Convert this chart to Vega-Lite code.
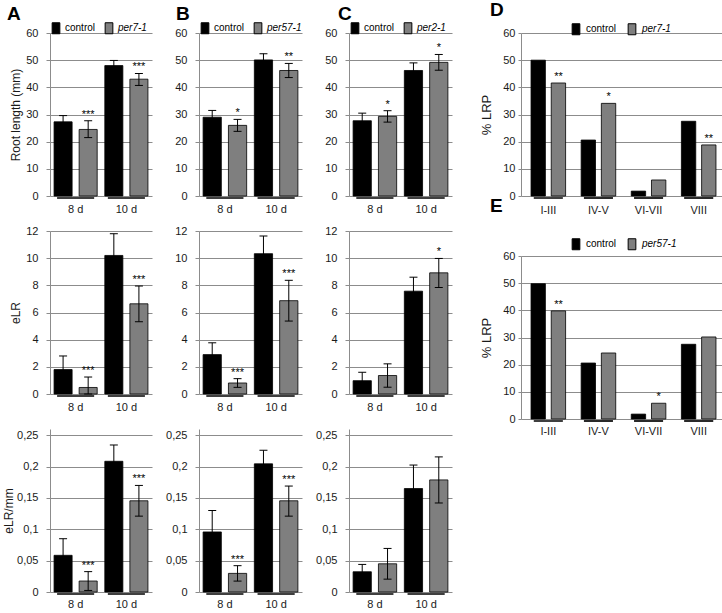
{
"$schema":"https://vega.github.io/schema/vega-lite/v6.json",
"padding":{"left":2,"top":1,"right":0,"bottom":0},
"background":"white",
"config":{"view":{"stroke":null},"font":"Liberation Sans",
 "axisY":{"grid":true,"gridColor":"#8c8c8c","domainColor":"#8c8c8c","tickColor":"#8c8c8c","tickSize":4,"labelPadding":8,"labelFontSize":11,"labelColor":"#1a1a1a","labelFont":"Liberation Sans","titleFont":"Liberation Sans","titleFontSize":12,"titleFontWeight":"normal","titleColor":"#1a1a1a","titlePadding":3},
 "axisX":{"domain":false,"ticks":false,"labelAngle":0,"labelFontSize":11,"labelColor":"#1a1a1a","labelFont":"Liberation Sans"},
 "title":{"anchor":"start","frame":"group","fontSize":19,"font":"Liberation Sans","fontWeight":"bold","color":"black","offset":0,"baseline":"alphabetic"},
 "legend":{"direction":"horizontal","padding":0,"symbolType":"M-0.7,-1H0.7V1H-0.7Z","symbolSize":121,"symbolStrokeColor":"black","symbolStrokeWidth":1,"symbolOpacity":1,"labelFontSize":10,"labelFont":"Liberation Sans","labelColor":"black","labelOffset":3}
},
"datasets":{
"a1":[{"day":"8 d","genotype":"control","value":27.3,"lo":24.9,"hi":29.6,"sig":""},{"day":"8 d","genotype":"per7-1","value":24.5,"lo":21.5,"hi":27.7,"sig":"***"},{"day":"10 d","genotype":"control","value":48.0,"lo":46.1,"hi":49.9,"sig":""},{"day":"10 d","genotype":"per7-1","value":43.0,"lo":40.7,"hi":45.1,"sig":"***"}],
"b1":[{"day":"8 d","genotype":"control","value":29.0,"lo":26.5,"hi":31.5,"sig":""},{"day":"8 d","genotype":"per57-1","value":26.0,"lo":23.8,"hi":28.2,"sig":"*"},{"day":"10 d","genotype":"control","value":50.1,"lo":47.8,"hi":52.4,"sig":""},{"day":"10 d","genotype":"per57-1","value":46.2,"lo":43.6,"hi":48.8,"sig":"**"}],
"c1":[{"day":"8 d","genotype":"control","value":27.7,"lo":24.9,"hi":30.5,"sig":""},{"day":"8 d","genotype":"per2-1","value":29.3,"lo":27.2,"hi":31.4,"sig":"*"},{"day":"10 d","genotype":"control","value":46.2,"lo":43.4,"hi":49.0,"sig":""},{"day":"10 d","genotype":"per2-1","value":49.2,"lo":46.3,"hi":52.1,"sig":"*"}],
"a2":[{"day":"8 d","genotype":"control","value":1.8,"lo":0.8,"hi":2.8,"sig":""},{"day":"8 d","genotype":"per7-1","value":0.48,"lo":0,"hi":1.25,"sig":"***"},{"day":"10 d","genotype":"control","value":10.2,"lo":8.6,"hi":11.8,"sig":""},{"day":"10 d","genotype":"per7-1","value":6.64,"lo":5.32,"hi":7.95,"sig":"***"}],
"b2":[{"day":"8 d","genotype":"control","value":2.9,"lo":2.03,"hi":3.77,"sig":""},{"day":"8 d","genotype":"per57-1","value":0.81,"lo":0.49,"hi":1.13,"sig":"***"},{"day":"10 d","genotype":"control","value":10.33,"lo":9.03,"hi":11.63,"sig":""},{"day":"10 d","genotype":"per57-1","value":6.87,"lo":5.37,"hi":8.37,"sig":"***"}],
"c2":[{"day":"8 d","genotype":"control","value":0.98,"lo":0.36,"hi":1.6,"sig":""},{"day":"8 d","genotype":"per2-1","value":1.36,"lo":0.5,"hi":2.22,"sig":""},{"day":"10 d","genotype":"control","value":7.57,"lo":6.54,"hi":8.6,"sig":""},{"day":"10 d","genotype":"per2-1","value":8.92,"lo":7.84,"hi":9.98,"sig":"*"}],
"a3":[{"day":"8 d","genotype":"control","value":0.0585,"lo":0.032,"hi":0.085,"sig":""},{"day":"8 d","genotype":"per7-1","value":0.0175,"lo":0.0025,"hi":0.0325,"sig":"***"},{"day":"10 d","genotype":"control","value":0.2085,"lo":0.1825,"hi":0.2345,"sig":""},{"day":"10 d","genotype":"per7-1","value":0.1455,"lo":0.121,"hi":0.17,"sig":"***"}],
"b3":[{"day":"8 d","genotype":"control","value":0.0958,"lo":0.0616,"hi":0.13,"sig":""},{"day":"8 d","genotype":"per57-1","value":0.0297,"lo":0.0174,"hi":0.042,"sig":"***"},{"day":"10 d","genotype":"control","value":0.2044,"lo":0.183,"hi":0.226,"sig":""},{"day":"10 d","genotype":"per57-1","value":0.1455,"lo":0.121,"hi":0.169,"sig":"***"}],
"c3":[{"day":"8 d","genotype":"control","value":0.0323,"lo":0.0205,"hi":0.044,"sig":""},{"day":"8 d","genotype":"per2-1","value":0.045,"lo":0.0205,"hi":0.0695,"sig":""},{"day":"10 d","genotype":"control","value":0.165,"lo":0.128,"hi":0.2025,"sig":""},{"day":"10 d","genotype":"per2-1","value":0.1788,"lo":0.142,"hi":0.2155,"sig":""}],
"d":[{"stage":"I-III","genotype":"control","value":50.0,"sig":""},{"stage":"I-III","genotype":"per7-1","value":41.6,"sig":"**"},{"stage":"IV-V","genotype":"control","value":20.6,"sig":""},{"stage":"IV-V","genotype":"per7-1","value":34.1,"sig":"*"},{"stage":"VI-VII","genotype":"control","value":1.8,"sig":""},{"stage":"VI-VII","genotype":"per7-1","value":5.9,"sig":""},{"stage":"VIII","genotype":"control","value":27.5,"sig":""},{"stage":"VIII","genotype":"per7-1","value":18.8,"sig":"**"}],
"e":[{"stage":"I-III","genotype":"control","value":49.8,"sig":""},{"stage":"I-III","genotype":"per57-1","value":39.8,"sig":"**"},{"stage":"IV-V","genotype":"control","value":20.6,"sig":""},{"stage":"IV-V","genotype":"per57-1","value":24.3,"sig":""},{"stage":"VI-VII","genotype":"control","value":1.8,"sig":""},{"stage":"VI-VII","genotype":"per57-1","value":5.8,"sig":"*"},{"stage":"VIII","genotype":"control","value":27.5,"sig":""},{"stage":"VIII","genotype":"per57-1","value":30.2,"sig":""}]
},
"hconcat":[
{"concat":[
{"width":102,"height":163,"data":{"name":"a1"},
 "title":{"text":"A","dx":-43,"dy":6},
 "encoding":{"x":{"field":"day","type":"nominal","sort":["8 d","10 d"],"scale":{"paddingInner":0.15,"paddingOuter":0.08},"axis":{"title":null,"labelPadding":7}}},
 "layer":[
  {"mark":{"type":"bar","stroke":"black","strokeWidth":0.8},"encoding":{
   "xOffset":{"field":"genotype","type":"nominal","sort":["control","per7-1"],"scale":{"paddingInner":0.28,"paddingOuter":0}},
   "y":{"field":"value","type":"quantitative","scale":{"domain":[0,60]},"axis":{"title":"Root length (mm)","values":[0,10,20,30,40,50,60]}},
   "color":{"field":"genotype","type":"nominal","scale":{"domain":["control","per7-1"],"range":["black","#7f7f7f"]},"legend":{"orient":"none","legendX":0,"legendY":-11,"title":null,"columnPadding":7,"encode":{"labels":{"update":{"fontStyle":{"signal":"datum.value === 'control' ? 'normal' : 'italic'"}}}}}}}},
  {"mark":{"type":"rule","color":"black","strokeWidth":1},"encoding":{"xOffset":{"field":"genotype","type":"nominal","sort":["control","per7-1"],"scale":{"paddingInner":0.28,"paddingOuter":0}},"y":{"field":"lo","type":"quantitative","axis":{"title":"Root length (mm)","values":[0,10,20,30,40,50,60]}},"y2":{"field":"hi"}}},
  {"mark":{"type":"tick","color":"black","size":8,"thickness":1,"opacity":1},"encoding":{"xOffset":{"field":"genotype","type":"nominal","sort":["control","per7-1"],"scale":{"paddingInner":0.28,"paddingOuter":0}},"y":{"field":"hi","type":"quantitative","axis":{"title":"Root length (mm)","values":[0,10,20,30,40,50,60]}}}},
  {"mark":{"type":"tick","color":"black","size":8,"thickness":1,"opacity":1},"encoding":{"xOffset":{"field":"genotype","type":"nominal","sort":["control","per7-1"],"scale":{"paddingInner":0.28,"paddingOuter":0}},"y":{"field":"lo","type":"quantitative","axis":{"title":"Root length (mm)","values":[0,10,20,30,40,50,60]}}}},
  {"mark":{"type":"text","baseline":"bottom","dy":-1,"fontSize":11,"font":"Liberation Sans","color":"black"},"encoding":{"xOffset":{"field":"genotype","type":"nominal","sort":["control","per7-1"],"scale":{"paddingInner":0.28,"paddingOuter":0}},"y":{"field":"hi","type":"quantitative","axis":{"title":"Root length (mm)","values":[0,10,20,30,40,50,60]}},"text":{"field":"sig"}}},
  {"mark":{"type":"tick","color":"black","size":37,"thickness":1.2,"yOffset":2,"opacity":1},"encoding":{"y":{"datum":0,"type":"quantitative","axis":{"title":"Root length (mm)","values":[0,10,20,30,40,50,60]}}}}
 ]},
{"width":103,"height":163,"data":{"name":"b1"},
 "title":{"text":"B","dx":-23,"dy":6},
 "encoding":{"x":{"field":"day","type":"nominal","sort":["8 d","10 d"],"scale":{"paddingInner":0.15,"paddingOuter":0.08},"axis":{"title":null,"labelPadding":7}}},
 "layer":[
  {"mark":{"type":"bar","stroke":"black","strokeWidth":0.8},"encoding":{
   "xOffset":{"field":"genotype","type":"nominal","sort":["control","per57-1"],"scale":{"paddingInner":0.28,"paddingOuter":0}},
   "y":{"field":"value","type":"quantitative","scale":{"domain":[0,60]},"axis":{"title":null,"values":[0,10,20,30,40,50,60]}},
   "color":{"field":"genotype","type":"nominal","scale":{"domain":["control","per57-1"],"range":["black","#7f7f7f"]},"legend":{"orient":"none","legendX":0,"legendY":-11,"title":null,"columnPadding":7,"encode":{"labels":{"update":{"fontStyle":{"signal":"datum.value === 'control' ? 'normal' : 'italic'"}}}}}}}},
  {"mark":{"type":"rule","color":"black","strokeWidth":1},"encoding":{"xOffset":{"field":"genotype","type":"nominal","sort":["control","per57-1"],"scale":{"paddingInner":0.28,"paddingOuter":0}},"y":{"field":"lo","type":"quantitative","axis":{"title":null,"values":[0,10,20,30,40,50,60]}},"y2":{"field":"hi"}}},
  {"mark":{"type":"tick","color":"black","size":8,"thickness":1,"opacity":1},"encoding":{"xOffset":{"field":"genotype","type":"nominal","sort":["control","per57-1"],"scale":{"paddingInner":0.28,"paddingOuter":0}},"y":{"field":"hi","type":"quantitative","axis":{"title":null,"values":[0,10,20,30,40,50,60]}}}},
  {"mark":{"type":"tick","color":"black","size":8,"thickness":1,"opacity":1},"encoding":{"xOffset":{"field":"genotype","type":"nominal","sort":["control","per57-1"],"scale":{"paddingInner":0.28,"paddingOuter":0}},"y":{"field":"lo","type":"quantitative","axis":{"title":null,"values":[0,10,20,30,40,50,60]}}}},
  {"mark":{"type":"text","baseline":"bottom","dy":-1,"fontSize":11,"font":"Liberation Sans","color":"black"},"encoding":{"xOffset":{"field":"genotype","type":"nominal","sort":["control","per57-1"],"scale":{"paddingInner":0.28,"paddingOuter":0}},"y":{"field":"hi","type":"quantitative","axis":{"title":null,"values":[0,10,20,30,40,50,60]}},"text":{"field":"sig"}}},
  {"mark":{"type":"tick","color":"black","size":37,"thickness":1.2,"yOffset":2,"opacity":1},"encoding":{"y":{"datum":0,"type":"quantitative","axis":{"title":null,"values":[0,10,20,30,40,50,60]}}}}
 ]},
{"width":103,"height":163,"data":{"name":"c1"},
 "title":{"text":"C","dx":-11,"dy":6},
 "encoding":{"x":{"field":"day","type":"nominal","sort":["8 d","10 d"],"scale":{"paddingInner":0.15,"paddingOuter":0.08},"axis":{"title":null,"labelPadding":7}}},
 "layer":[
  {"mark":{"type":"bar","stroke":"black","strokeWidth":0.8},"encoding":{
   "xOffset":{"field":"genotype","type":"nominal","sort":["control","per2-1"],"scale":{"paddingInner":0.28,"paddingOuter":0}},
   "y":{"field":"value","type":"quantitative","scale":{"domain":[0,60]},"axis":{"title":null,"values":[0,10,20,30,40,50,60]}},
   "color":{"field":"genotype","type":"nominal","scale":{"domain":["control","per2-1"],"range":["black","#7f7f7f"]},"legend":{"orient":"none","legendX":0,"legendY":-11,"title":null,"columnPadding":7,"encode":{"labels":{"update":{"fontStyle":{"signal":"datum.value === 'control' ? 'normal' : 'italic'"}}}}}}}},
  {"mark":{"type":"rule","color":"black","strokeWidth":1},"encoding":{"xOffset":{"field":"genotype","type":"nominal","sort":["control","per2-1"],"scale":{"paddingInner":0.28,"paddingOuter":0}},"y":{"field":"lo","type":"quantitative","axis":{"title":null,"values":[0,10,20,30,40,50,60]}},"y2":{"field":"hi"}}},
  {"mark":{"type":"tick","color":"black","size":8,"thickness":1,"opacity":1},"encoding":{"xOffset":{"field":"genotype","type":"nominal","sort":["control","per2-1"],"scale":{"paddingInner":0.28,"paddingOuter":0}},"y":{"field":"hi","type":"quantitative","axis":{"title":null,"values":[0,10,20,30,40,50,60]}}}},
  {"mark":{"type":"tick","color":"black","size":8,"thickness":1,"opacity":1},"encoding":{"xOffset":{"field":"genotype","type":"nominal","sort":["control","per2-1"],"scale":{"paddingInner":0.28,"paddingOuter":0}},"y":{"field":"lo","type":"quantitative","axis":{"title":null,"values":[0,10,20,30,40,50,60]}}}},
  {"mark":{"type":"text","baseline":"bottom","dy":-1,"fontSize":11,"font":"Liberation Sans","color":"black"},"encoding":{"xOffset":{"field":"genotype","type":"nominal","sort":["control","per2-1"],"scale":{"paddingInner":0.28,"paddingOuter":0}},"y":{"field":"hi","type":"quantitative","axis":{"title":null,"values":[0,10,20,30,40,50,60]}},"text":{"field":"sig"}}},
  {"mark":{"type":"tick","color":"black","size":37,"thickness":1.2,"yOffset":2,"opacity":1},"encoding":{"y":{"datum":0,"type":"quantitative","axis":{"title":null,"values":[0,10,20,30,40,50,60]}}}}
 ]},
{"width":102,"height":163,"data":{"name":"a2"},
 "encoding":{"x":{"field":"day","type":"nominal","sort":["8 d","10 d"],"scale":{"paddingInner":0.15,"paddingOuter":0.08},"axis":{"title":null,"labelPadding":7}}},
 "layer":[
  {"mark":{"type":"bar","stroke":"black","strokeWidth":0.8},"encoding":{
   "xOffset":{"field":"genotype","type":"nominal","sort":["control","per7-1"],"scale":{"paddingInner":0.28,"paddingOuter":0}},
   "y":{"field":"value","type":"quantitative","scale":{"domain":[0,12]},"axis":{"title":"eLR","values":[0,2,4,6,8,10,12]}},
   "color":{"field":"genotype","type":"nominal","scale":{"domain":["control","per7-1"],"range":["black","#7f7f7f"]},"legend":null}}},
  {"mark":{"type":"rule","color":"black","strokeWidth":1},"encoding":{"xOffset":{"field":"genotype","type":"nominal","sort":["control","per7-1"],"scale":{"paddingInner":0.28,"paddingOuter":0}},"y":{"field":"lo","type":"quantitative","axis":{"title":"eLR","values":[0,2,4,6,8,10,12]}},"y2":{"field":"hi"}}},
  {"mark":{"type":"tick","color":"black","size":8,"thickness":1,"opacity":1},"encoding":{"xOffset":{"field":"genotype","type":"nominal","sort":["control","per7-1"],"scale":{"paddingInner":0.28,"paddingOuter":0}},"y":{"field":"hi","type":"quantitative","axis":{"title":"eLR","values":[0,2,4,6,8,10,12]}}}},
  {"mark":{"type":"tick","color":"black","size":8,"thickness":1,"opacity":1},"encoding":{"xOffset":{"field":"genotype","type":"nominal","sort":["control","per7-1"],"scale":{"paddingInner":0.28,"paddingOuter":0}},"y":{"field":"lo","type":"quantitative","axis":{"title":"eLR","values":[0,2,4,6,8,10,12]}}}},
  {"mark":{"type":"text","baseline":"bottom","dy":-1,"fontSize":11,"font":"Liberation Sans","color":"black"},"encoding":{"xOffset":{"field":"genotype","type":"nominal","sort":["control","per7-1"],"scale":{"paddingInner":0.28,"paddingOuter":0}},"y":{"field":"hi","type":"quantitative","axis":{"title":"eLR","values":[0,2,4,6,8,10,12]}},"text":{"field":"sig"}}},
  {"mark":{"type":"tick","color":"black","size":37,"thickness":1.2,"yOffset":2,"opacity":1},"encoding":{"y":{"datum":0,"type":"quantitative","axis":{"title":"eLR","values":[0,2,4,6,8,10,12]}}}}
 ]},
{"width":103,"height":163,"data":{"name":"b2"},
 "encoding":{"x":{"field":"day","type":"nominal","sort":["8 d","10 d"],"scale":{"paddingInner":0.15,"paddingOuter":0.08},"axis":{"title":null,"labelPadding":7}}},
 "layer":[
  {"mark":{"type":"bar","stroke":"black","strokeWidth":0.8},"encoding":{
   "xOffset":{"field":"genotype","type":"nominal","sort":["control","per57-1"],"scale":{"paddingInner":0.28,"paddingOuter":0}},
   "y":{"field":"value","type":"quantitative","scale":{"domain":[0,12]},"axis":{"title":null,"values":[0,2,4,6,8,10,12]}},
   "color":{"field":"genotype","type":"nominal","scale":{"domain":["control","per57-1"],"range":["black","#7f7f7f"]},"legend":null}}},
  {"mark":{"type":"rule","color":"black","strokeWidth":1},"encoding":{"xOffset":{"field":"genotype","type":"nominal","sort":["control","per57-1"],"scale":{"paddingInner":0.28,"paddingOuter":0}},"y":{"field":"lo","type":"quantitative","axis":{"title":null,"values":[0,2,4,6,8,10,12]}},"y2":{"field":"hi"}}},
  {"mark":{"type":"tick","color":"black","size":8,"thickness":1,"opacity":1},"encoding":{"xOffset":{"field":"genotype","type":"nominal","sort":["control","per57-1"],"scale":{"paddingInner":0.28,"paddingOuter":0}},"y":{"field":"hi","type":"quantitative","axis":{"title":null,"values":[0,2,4,6,8,10,12]}}}},
  {"mark":{"type":"tick","color":"black","size":8,"thickness":1,"opacity":1},"encoding":{"xOffset":{"field":"genotype","type":"nominal","sort":["control","per57-1"],"scale":{"paddingInner":0.28,"paddingOuter":0}},"y":{"field":"lo","type":"quantitative","axis":{"title":null,"values":[0,2,4,6,8,10,12]}}}},
  {"mark":{"type":"text","baseline":"bottom","dy":-1,"fontSize":11,"font":"Liberation Sans","color":"black"},"encoding":{"xOffset":{"field":"genotype","type":"nominal","sort":["control","per57-1"],"scale":{"paddingInner":0.28,"paddingOuter":0}},"y":{"field":"hi","type":"quantitative","axis":{"title":null,"values":[0,2,4,6,8,10,12]}},"text":{"field":"sig"}}},
  {"mark":{"type":"tick","color":"black","size":37,"thickness":1.2,"yOffset":2,"opacity":1},"encoding":{"y":{"datum":0,"type":"quantitative","axis":{"title":null,"values":[0,2,4,6,8,10,12]}}}}
 ]},
{"width":103,"height":163,"data":{"name":"c2"},
 "encoding":{"x":{"field":"day","type":"nominal","sort":["8 d","10 d"],"scale":{"paddingInner":0.15,"paddingOuter":0.08},"axis":{"title":null,"labelPadding":7}}},
 "layer":[
  {"mark":{"type":"bar","stroke":"black","strokeWidth":0.8},"encoding":{
   "xOffset":{"field":"genotype","type":"nominal","sort":["control","per2-1"],"scale":{"paddingInner":0.28,"paddingOuter":0}},
   "y":{"field":"value","type":"quantitative","scale":{"domain":[0,12]},"axis":{"title":null,"values":[0,2,4,6,8,10,12]}},
   "color":{"field":"genotype","type":"nominal","scale":{"domain":["control","per2-1"],"range":["black","#7f7f7f"]},"legend":null}}},
  {"mark":{"type":"rule","color":"black","strokeWidth":1},"encoding":{"xOffset":{"field":"genotype","type":"nominal","sort":["control","per2-1"],"scale":{"paddingInner":0.28,"paddingOuter":0}},"y":{"field":"lo","type":"quantitative","axis":{"title":null,"values":[0,2,4,6,8,10,12]}},"y2":{"field":"hi"}}},
  {"mark":{"type":"tick","color":"black","size":8,"thickness":1,"opacity":1},"encoding":{"xOffset":{"field":"genotype","type":"nominal","sort":["control","per2-1"],"scale":{"paddingInner":0.28,"paddingOuter":0}},"y":{"field":"hi","type":"quantitative","axis":{"title":null,"values":[0,2,4,6,8,10,12]}}}},
  {"mark":{"type":"tick","color":"black","size":8,"thickness":1,"opacity":1},"encoding":{"xOffset":{"field":"genotype","type":"nominal","sort":["control","per2-1"],"scale":{"paddingInner":0.28,"paddingOuter":0}},"y":{"field":"lo","type":"quantitative","axis":{"title":null,"values":[0,2,4,6,8,10,12]}}}},
  {"mark":{"type":"text","baseline":"bottom","dy":-1,"fontSize":11,"font":"Liberation Sans","color":"black"},"encoding":{"xOffset":{"field":"genotype","type":"nominal","sort":["control","per2-1"],"scale":{"paddingInner":0.28,"paddingOuter":0}},"y":{"field":"hi","type":"quantitative","axis":{"title":null,"values":[0,2,4,6,8,10,12]}},"text":{"field":"sig"}}},
  {"mark":{"type":"tick","color":"black","size":37,"thickness":1.2,"yOffset":2,"opacity":1},"encoding":{"y":{"datum":0,"type":"quantitative","axis":{"title":null,"values":[0,2,4,6,8,10,12]}}}}
 ]},
{"width":102,"height":163,"data":{"name":"a3"},
 "encoding":{"x":{"field":"day","type":"nominal","sort":["8 d","10 d"],"scale":{"paddingInner":0.15,"paddingOuter":0.08},"axis":{"title":null,"labelPadding":6}}},
 "layer":[
  {"mark":{"type":"bar","stroke":"black","strokeWidth":0.8},"encoding":{
   "xOffset":{"field":"genotype","type":"nominal","sort":["control","per7-1"],"scale":{"paddingInner":0.28,"paddingOuter":0}},
   "y":{"field":"value","type":"quantitative","scale":{"domain":[0,0.25]},"axis":{"title":"eLR/mm","titlePadding":1,"values":[0,0.05,0.1,0.15,0.2,0.25],"labelExpr":"replace(toString(datum.value), '.', ',')"}},
   "color":{"field":"genotype","type":"nominal","scale":{"domain":["control","per7-1"],"range":["black","#7f7f7f"]},"legend":null}}},
  {"mark":{"type":"rule","color":"black","strokeWidth":1},"encoding":{"xOffset":{"field":"genotype","type":"nominal","sort":["control","per7-1"],"scale":{"paddingInner":0.28,"paddingOuter":0}},"y":{"field":"lo","type":"quantitative","axis":{"title":"eLR/mm","titlePadding":1,"values":[0,0.05,0.1,0.15,0.2,0.25],"labelExpr":"replace(toString(datum.value), '.', ',')"}},"y2":{"field":"hi"}}},
  {"mark":{"type":"tick","color":"black","size":8,"thickness":1,"opacity":1},"encoding":{"xOffset":{"field":"genotype","type":"nominal","sort":["control","per7-1"],"scale":{"paddingInner":0.28,"paddingOuter":0}},"y":{"field":"hi","type":"quantitative","axis":{"title":"eLR/mm","titlePadding":1,"values":[0,0.05,0.1,0.15,0.2,0.25],"labelExpr":"replace(toString(datum.value), '.', ',')"}}}},
  {"mark":{"type":"tick","color":"black","size":8,"thickness":1,"opacity":1},"encoding":{"xOffset":{"field":"genotype","type":"nominal","sort":["control","per7-1"],"scale":{"paddingInner":0.28,"paddingOuter":0}},"y":{"field":"lo","type":"quantitative","axis":{"title":"eLR/mm","titlePadding":1,"values":[0,0.05,0.1,0.15,0.2,0.25],"labelExpr":"replace(toString(datum.value), '.', ',')"}}}},
  {"mark":{"type":"text","baseline":"bottom","dy":-1,"fontSize":11,"font":"Liberation Sans","color":"black"},"encoding":{"xOffset":{"field":"genotype","type":"nominal","sort":["control","per7-1"],"scale":{"paddingInner":0.28,"paddingOuter":0}},"y":{"field":"hi","type":"quantitative","axis":{"title":"eLR/mm","titlePadding":1,"values":[0,0.05,0.1,0.15,0.2,0.25],"labelExpr":"replace(toString(datum.value), '.', ',')"}},"text":{"field":"sig"}}},
  {"mark":{"type":"tick","color":"black","size":37,"thickness":1.2,"yOffset":2,"opacity":1},"encoding":{"y":{"datum":0,"type":"quantitative","axis":{"title":"eLR/mm","titlePadding":1,"values":[0,0.05,0.1,0.15,0.2,0.25],"labelExpr":"replace(toString(datum.value), '.', ',')"}}}}
 ]},
{"width":103,"height":163,"data":{"name":"b3"},
 "encoding":{"x":{"field":"day","type":"nominal","sort":["8 d","10 d"],"scale":{"paddingInner":0.15,"paddingOuter":0.08},"axis":{"title":null,"labelPadding":6}}},
 "layer":[
  {"mark":{"type":"bar","stroke":"black","strokeWidth":0.8},"encoding":{
   "xOffset":{"field":"genotype","type":"nominal","sort":["control","per57-1"],"scale":{"paddingInner":0.28,"paddingOuter":0}},
   "y":{"field":"value","type":"quantitative","scale":{"domain":[0,0.25]},"axis":{"title":null,"values":[0,0.05,0.1,0.15,0.2,0.25],"labelExpr":"replace(toString(datum.value), '.', ',')"}},
   "color":{"field":"genotype","type":"nominal","scale":{"domain":["control","per57-1"],"range":["black","#7f7f7f"]},"legend":null}}},
  {"mark":{"type":"rule","color":"black","strokeWidth":1},"encoding":{"xOffset":{"field":"genotype","type":"nominal","sort":["control","per57-1"],"scale":{"paddingInner":0.28,"paddingOuter":0}},"y":{"field":"lo","type":"quantitative","axis":{"title":null,"values":[0,0.05,0.1,0.15,0.2,0.25],"labelExpr":"replace(toString(datum.value), '.', ',')"}},"y2":{"field":"hi"}}},
  {"mark":{"type":"tick","color":"black","size":8,"thickness":1,"opacity":1},"encoding":{"xOffset":{"field":"genotype","type":"nominal","sort":["control","per57-1"],"scale":{"paddingInner":0.28,"paddingOuter":0}},"y":{"field":"hi","type":"quantitative","axis":{"title":null,"values":[0,0.05,0.1,0.15,0.2,0.25],"labelExpr":"replace(toString(datum.value), '.', ',')"}}}},
  {"mark":{"type":"tick","color":"black","size":8,"thickness":1,"opacity":1},"encoding":{"xOffset":{"field":"genotype","type":"nominal","sort":["control","per57-1"],"scale":{"paddingInner":0.28,"paddingOuter":0}},"y":{"field":"lo","type":"quantitative","axis":{"title":null,"values":[0,0.05,0.1,0.15,0.2,0.25],"labelExpr":"replace(toString(datum.value), '.', ',')"}}}},
  {"mark":{"type":"text","baseline":"bottom","dy":-1,"fontSize":11,"font":"Liberation Sans","color":"black"},"encoding":{"xOffset":{"field":"genotype","type":"nominal","sort":["control","per57-1"],"scale":{"paddingInner":0.28,"paddingOuter":0}},"y":{"field":"hi","type":"quantitative","axis":{"title":null,"values":[0,0.05,0.1,0.15,0.2,0.25],"labelExpr":"replace(toString(datum.value), '.', ',')"}},"text":{"field":"sig"}}},
  {"mark":{"type":"tick","color":"black","size":37,"thickness":1.2,"yOffset":2,"opacity":1},"encoding":{"y":{"datum":0,"type":"quantitative","axis":{"title":null,"values":[0,0.05,0.1,0.15,0.2,0.25],"labelExpr":"replace(toString(datum.value), '.', ',')"}}}}
 ]},
{"width":103,"height":163,"data":{"name":"c3"},
 "encoding":{"x":{"field":"day","type":"nominal","sort":["8 d","10 d"],"scale":{"paddingInner":0.15,"paddingOuter":0.08},"axis":{"title":null,"labelPadding":6}}},
 "layer":[
  {"mark":{"type":"bar","stroke":"black","strokeWidth":0.8},"encoding":{
   "xOffset":{"field":"genotype","type":"nominal","sort":["control","per2-1"],"scale":{"paddingInner":0.28,"paddingOuter":0}},
   "y":{"field":"value","type":"quantitative","scale":{"domain":[0,0.25]},"axis":{"title":null,"values":[0,0.05,0.1,0.15,0.2,0.25],"labelExpr":"replace(toString(datum.value), '.', ',')"}},
   "color":{"field":"genotype","type":"nominal","scale":{"domain":["control","per2-1"],"range":["black","#7f7f7f"]},"legend":null}}},
  {"mark":{"type":"rule","color":"black","strokeWidth":1},"encoding":{"xOffset":{"field":"genotype","type":"nominal","sort":["control","per2-1"],"scale":{"paddingInner":0.28,"paddingOuter":0}},"y":{"field":"lo","type":"quantitative","axis":{"title":null,"values":[0,0.05,0.1,0.15,0.2,0.25],"labelExpr":"replace(toString(datum.value), '.', ',')"}},"y2":{"field":"hi"}}},
  {"mark":{"type":"tick","color":"black","size":8,"thickness":1,"opacity":1},"encoding":{"xOffset":{"field":"genotype","type":"nominal","sort":["control","per2-1"],"scale":{"paddingInner":0.28,"paddingOuter":0}},"y":{"field":"hi","type":"quantitative","axis":{"title":null,"values":[0,0.05,0.1,0.15,0.2,0.25],"labelExpr":"replace(toString(datum.value), '.', ',')"}}}},
  {"mark":{"type":"tick","color":"black","size":8,"thickness":1,"opacity":1},"encoding":{"xOffset":{"field":"genotype","type":"nominal","sort":["control","per2-1"],"scale":{"paddingInner":0.28,"paddingOuter":0}},"y":{"field":"lo","type":"quantitative","axis":{"title":null,"values":[0,0.05,0.1,0.15,0.2,0.25],"labelExpr":"replace(toString(datum.value), '.', ',')"}}}},
  {"mark":{"type":"text","baseline":"bottom","dy":-1,"fontSize":11,"font":"Liberation Sans","color":"black"},"encoding":{"xOffset":{"field":"genotype","type":"nominal","sort":["control","per2-1"],"scale":{"paddingInner":0.28,"paddingOuter":0}},"y":{"field":"hi","type":"quantitative","axis":{"title":null,"values":[0,0.05,0.1,0.15,0.2,0.25],"labelExpr":"replace(toString(datum.value), '.', ',')"}},"text":{"field":"sig"}}},
  {"mark":{"type":"tick","color":"black","size":37,"thickness":1.2,"yOffset":2,"opacity":1},"encoding":{"y":{"datum":0,"type":"quantitative","axis":{"title":null,"values":[0,0.05,0.1,0.15,0.2,0.25],"labelExpr":"replace(toString(datum.value), '.', ',')"}}}}
 ]}
],
"columns":3,"bounds":"flush","align":"each","spacing":{"row":35,"column":47},
"resolve":{"scale":{"color":"independent","xOffset":"independent"}}},
{"vconcat":[
{"width":205,"height":163,"data":{"name":"d"},
 "title":{"text":"D","dx":-31,"dy":1},
 "encoding":{"x":{"field":"stage","type":"nominal","sort":["I-III","IV-V","VI-VII","VIII"],"scale":{"paddingInner":0.31,"paddingOuter":0.2},"axis":{"title":null,"labelPadding":8}}},
 "layer":[
  {"mark":{"type":"bar","stroke":"black","strokeWidth":0.8},"encoding":{
   "xOffset":{"field":"genotype","type":"nominal","sort":["control","per7-1"],"scale":{"paddingInner":0.29,"paddingOuter":0}},
   "y":{"field":"value","type":"quantitative","scale":{"domain":[0,60]},"axis":{"title":"% LRP","values":[0,10,20,30,40,50,60],"tickSize":3,"labelPadding":3,"titleFontSize":13,"titlePadding":9}},
   "color":{"field":"genotype","type":"nominal","scale":{"domain":["control","per7-1"],"range":["black","#7f7f7f"]},"legend":{"orient":"none","legendX":49,"legendY":-10,"title":null,"columnPadding":9,"labelOffset":4,"encode":{"labels":{"update":{"fontStyle":{"signal":"datum.value === 'control' ? 'normal' : 'italic'"}}}}}}}},
  {"mark":{"type":"text","baseline":"bottom","dy":-1,"fontSize":11,"font":"Liberation Sans","color":"black"},"encoding":{"xOffset":{"field":"genotype","type":"nominal","sort":["control","per7-1"],"scale":{"paddingInner":0.29,"paddingOuter":0}},"y":{"field":"value","type":"quantitative","axis":{"title":"% LRP","values":[0,10,20,30,40,50,60],"tickSize":3,"labelPadding":3,"titleFontSize":13,"titlePadding":9}},"text":{"field":"sig"}}},
  {"mark":{"type":"tick","color":"black","size":29,"thickness":1.2,"yOffset":2,"opacity":1},"encoding":{"y":{"datum":0,"type":"quantitative","axis":{"title":"% LRP","values":[0,10,20,30,40,50,60],"tickSize":3,"labelPadding":3,"titleFontSize":13,"titlePadding":9}}}}
 ]},
{"width":205,"height":163,"data":{"name":"e"},
 "title":{"text":"E","dx":-31,"dy":-18},
 "encoding":{"x":{"field":"stage","type":"nominal","sort":["I-III","IV-V","VI-VII","VIII"],"scale":{"paddingInner":0.31,"paddingOuter":0.2},"axis":{"title":null,"labelPadding":6}}},
 "layer":[
  {"mark":{"type":"bar","stroke":"black","strokeWidth":0.8},"encoding":{
   "xOffset":{"field":"genotype","type":"nominal","sort":["control","per57-1"],"scale":{"paddingInner":0.29,"paddingOuter":0}},
   "y":{"field":"value","type":"quantitative","scale":{"domain":[0,60]},"axis":{"title":"% LRP","values":[0,10,20,30,40,50,60],"tickSize":3,"labelPadding":3,"titleFontSize":13,"titlePadding":9}},
   "color":{"field":"genotype","type":"nominal","scale":{"domain":["control","per57-1"],"range":["black","#7f7f7f"]},"legend":{"orient":"none","legendX":49,"legendY":-18,"title":null,"columnPadding":9,"labelOffset":4,"encode":{"labels":{"update":{"fontStyle":{"signal":"datum.value === 'control' ? 'normal' : 'italic'"}}}}}}}},
  {"mark":{"type":"text","baseline":"bottom","dy":-1,"fontSize":11,"font":"Liberation Sans","color":"black"},"encoding":{"xOffset":{"field":"genotype","type":"nominal","sort":["control","per57-1"],"scale":{"paddingInner":0.29,"paddingOuter":0}},"y":{"field":"value","type":"quantitative","axis":{"title":"% LRP","values":[0,10,20,30,40,50,60],"tickSize":3,"labelPadding":3,"titleFontSize":13,"titlePadding":9}},"text":{"field":"sig"}}},
  {"mark":{"type":"tick","color":"black","size":29,"thickness":1.2,"yOffset":2,"opacity":1},"encoding":{"y":{"datum":0,"type":"quantitative","axis":{"title":"% LRP","values":[0,10,20,30,40,50,60],"tickSize":3,"labelPadding":3,"titleFontSize":13,"titlePadding":9}}}}
 ]}
],
"bounds":"flush","spacing":60,
"resolve":{"scale":{"color":"independent","xOffset":"independent"}}}
],
"spacing":28,
"resolve":{"scale":{"color":"independent","xOffset":"independent"}}
}
